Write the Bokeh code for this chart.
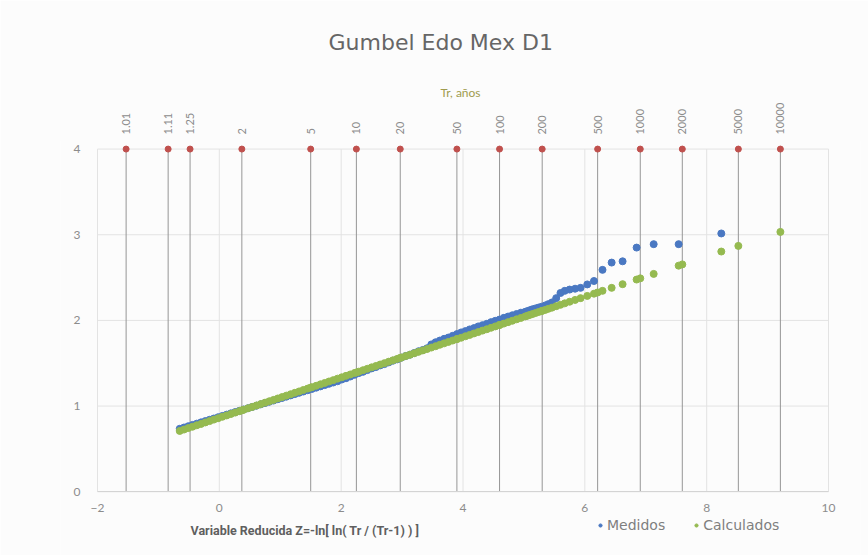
from bokeh.plotting import figure
from bokeh.models import (Range1d, Legend, LegendItem, LinearAxis, FixedTicker,
                          SingleIntervalTicker, Label)
from bokeh.embed import file_html
from bokeh.resources import INLINE

# Return periods (years) and their reduced variable z = -ln(ln(Tr/(Tr-1)))
tr_labels = ["1.01", "1.11", "1.25", "2", "5", "10", "20", "50", "100",
             "200", "500", "1000", "2000", "5000", "10000"]
tr_z = [-1.53, -0.84, -0.48, 0.37, 1.50, 2.25, 2.97, 3.90, 4.60,
        5.30, 6.21, 6.91, 7.60, 8.52, 9.21]

# Observed series (reduced variable, value)
z_medidos = [8.24, 7.54, 7.13, 6.85, 6.62, 6.44, 6.29, 6.15, 6.04, 5.93,
             5.84, 5.75, 5.67, 5.60, 5.53, 5.46, 5.40, 5.35, 5.29, 5.24,
             5.19, 5.14, 5.10, 5.06, 5.02, 4.95, 4.88, 4.81, 4.74, 4.67,
             4.60, 4.53, 4.46, 4.39, 4.32, 4.25, 4.18, 4.11, 4.04, 3.97,
             3.90, 3.83, 3.76, 3.69, 3.62, 3.55, 3.48, 3.41, 3.34, 3.27,
             3.20, 3.13, 3.06, 2.99, 2.92, 2.85, 2.78, 2.71, 2.64, 2.57,
             2.50, 2.43, 2.36, 2.29, 2.22, 2.15, 2.08, 2.01, 1.94, 1.87,
             1.80, 1.73, 1.66, 1.59, 1.52, 1.45, 1.38, 1.31, 1.24, 1.17,
             1.10, 1.03, 0.96, 0.89, 0.82, 0.75, 0.68, 0.61, 0.54, 0.47,
             0.40, 0.33, 0.26, 0.19, 0.12, 0.05, -0.02, -0.09, -0.16, -0.23,
             -0.30, -0.37, -0.44, -0.51, -0.58, -0.65]
y_medidos = [3.015, 2.89, 2.89, 2.85, 2.69, 2.675, 2.59, 2.46, 2.42, 2.38,
             2.37, 2.36, 2.345, 2.32, 2.26, 2.21, 2.19, 2.175, 2.16, 2.15,
             2.14, 2.13, 2.12, 2.11, 2.10, 2.09, 2.075, 2.06, 2.045, 2.03,
             2.01, 1.995, 1.98, 1.96, 1.945, 1.93, 1.91, 1.895, 1.875, 1.86,
             1.84, 1.82, 1.80, 1.785, 1.765, 1.745, 1.72, 1.675, 1.655, 1.64,
             1.62, 1.60, 1.585, 1.565, 1.545, 1.53, 1.51, 1.49, 1.475, 1.455,
             1.44, 1.42, 1.40, 1.385, 1.365, 1.345, 1.325, 1.31, 1.29, 1.275,
             1.26, 1.245, 1.23, 1.215, 1.20, 1.185, 1.17, 1.155, 1.14, 1.125,
             1.11, 1.095, 1.08, 1.065, 1.05, 1.035, 1.02, 1.005, 0.99, 0.975,
             0.96, 0.945, 0.93, 0.915, 0.90, 0.885, 0.87, 0.855, 0.84, 0.825,
             0.81, 0.795, 0.78, 0.765, 0.75, 0.735]

# Fitted Gumbel values at the observed z and at the design return periods
y_calculados = [2.804, 2.639, 2.543, 2.477, 2.423, 2.380, 2.345, 2.312, 2.286, 2.260,
                2.239, 2.218, 2.199, 2.182, 2.166, 2.149, 2.135, 2.123, 2.109, 2.098,
                2.086, 2.074, 2.065, 2.055, 2.046, 2.029, 2.013, 1.996, 1.980, 1.963,
                1.947, 1.930, 1.914, 1.897, 1.881, 1.864, 1.848, 1.831, 1.815, 1.798,
                1.782, 1.765, 1.749, 1.732, 1.716, 1.699, 1.683, 1.666, 1.650, 1.633,
                1.617, 1.600, 1.584, 1.567, 1.551, 1.534, 1.518, 1.501, 1.485, 1.468,
                1.452, 1.435, 1.419, 1.402, 1.386, 1.369, 1.353, 1.336, 1.320, 1.303,
                1.287, 1.270, 1.254, 1.237, 1.221, 1.204, 1.188, 1.171, 1.155, 1.138,
                1.122, 1.105, 1.089, 1.072, 1.056, 1.040, 1.023, 1.007, 0.990, 0.974,
                0.957, 0.941, 0.924, 0.908, 0.891, 0.875, 0.858, 0.842, 0.825, 0.809,
                0.792, 0.776, 0.759, 0.743, 0.726, 0.710]
z_diseno = [0.37, 1.50, 2.25, 2.97, 3.90, 4.60, 5.30, 6.21, 6.91, 7.60, 8.52, 9.21]
y_diseno = [0.950, 1.216, 1.393, 1.563, 1.782, 1.947, 2.112, 2.326, 2.491, 2.654, 2.870, 3.033]

x_ticks_grid = [-2, 0, 2, 4, 6, 8, 10]
y_ticks_grid = [0, 1, 2, 3, 4]

TICK_FONT = "Lato"
GREY_TXT = "#8c8c8c"
GRID = "#e3e3e3"
BG = "#fcfcfc"

# The frame spans past the -2..10 / 0..4 box so the tick labels, the axis
# title and the legend sit inside it; both value axes are pinned in place.
p = figure(width=868, height=555, output_backend="svg", toolbar_location=None,
           x_range=Range1d(-2.607, 10.525), y_range=Range1d(-0.744, 4.1),
           min_border_left=60, min_border_right=8,
           min_border_top=136, min_border_bottom=0)
p.outline_line_color = None
p.border_fill_color = BG
p.background_fill_color = BG

# title
p.title.text = "Gumbel Edo Mex D1"
p.title.align = "left"
p.title.offset = 268
p.title.standoff = 54
p.title.text_font = "DejaVu Sans"
p.title.text_font_size = "22px"
p.title.text_font_style = "normal"
p.title.text_color = "#666666"

# value axes
p.xaxis.ticker = SingleIntervalTicker(interval=2)
p.yaxis.ticker = SingleIntervalTicker(interval=1)
for ax in (p.xaxis, p.yaxis):
    ax.major_tick_line_color = None
    ax.minor_tick_line_color = None
    ax.major_label_text_font = TICK_FONT
    ax.major_label_text_font_size = "12px"
    ax.major_label_text_color = GREY_TXT
p.xaxis.fixed_location = 0
p.yaxis.fixed_location = -2
p.xaxis.bounds = (-2, 10)
p.yaxis.bounds = (0, 4)
p.xaxis.axis_line_color = "#d4d4d4"
p.yaxis.axis_line_color = None
p.xaxis.major_label_standoff = 6
p.yaxis.major_label_standoff = 11

# return-period axis on top
tr_axis = LinearAxis(ticker=FixedTicker(ticks=tr_z), bounds=(-1.56, 10),
                     major_label_overrides=dict(zip(tr_z, tr_labels)),
                     major_label_orientation="vertical",
                     axis_label="Tr, años", axis_label_standoff=0,
                     axis_label_text_font=TICK_FONT,
                     axis_label_text_font_size="12px",
                     axis_label_text_font_style="normal",
                     axis_label_text_color="#a09b4e",
                     major_label_standoff=0,
                     major_label_text_font=TICK_FONT,
                     major_label_text_font_size="11px",
                     major_label_text_color=GREY_TXT,
                     axis_line_color=None, major_tick_line_color=None,
                     minor_tick_line_color=None)
p.add_layout(tr_axis, "above")

# grid limited to the 0..4 / -2..10 box
p.xgrid.grid_line_color = None
p.ygrid.grid_line_color = None
p.segment(x0=x_ticks_grid, y0=0, x1=x_ticks_grid, y1=4, line_color=GRID, line_width=1)
p.segment(x0=-2, y0=y_ticks_grid, x1=10, y1=y_ticks_grid, line_color=GRID, line_width=1)

# return-period reference lines with markers on top
p.segment(x0=tr_z, y0=0, x1=tr_z, y1=4, line_color="#969696", line_width=1)
p.scatter(x=tr_z, y=[4] * len(tr_z), size=6, color="#c0504d")

# data series
r_med = p.scatter(x=z_medidos, y=y_medidos, size=7, color="#4a78c2")
r_cal = p.scatter(x=z_medidos + z_diseno, y=y_calculados + y_diseno,
                  size=7, color="#95ba50")

# x-axis title, left aligned under the value axis
p.add_layout(Label(x=-0.473, y=-0.451,
                   text="Variable Reducida  Z=-ln[ ln( Tr / (Tr-1) ) ]",
                   text_align="left", text_baseline="middle",
                   text_font="Roboto", text_font_size="12.5px",
                   text_font_style="bold", text_color="#5f5f5f"))

legend = Legend(items=[LegendItem(label="Medidos", renderers=[r_med]),
                       LegendItem(label="Calculados", renderers=[r_cal])],
                orientation="horizontal", location=(536, 20),
                background_fill_alpha=0, border_line_color=None,
                padding=0, margin=0, spacing=27, glyph_width=8,
                glyph_height=20, label_standoff=3,
                label_text_font="DejaVu Sans", label_text_font_size="14px",
                label_text_color="#7f7f7f")
p.add_layout(legend)

open("out.html", "w").write(file_html(p, INLINE))
